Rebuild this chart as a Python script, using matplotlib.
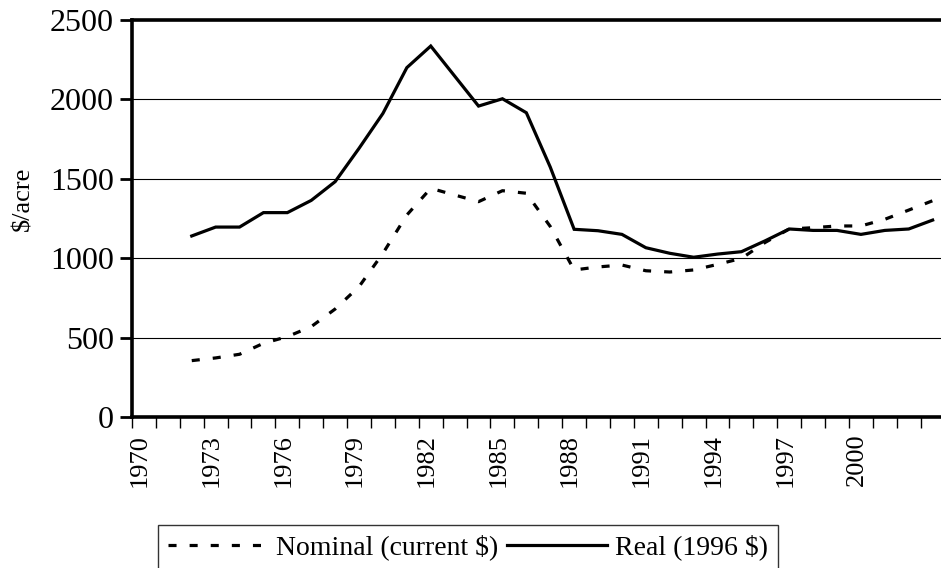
import matplotlib
matplotlib.use("Agg")
import matplotlib.pyplot as plt
import matplotlib.transforms as mtransforms
from matplotlib.ticker import FixedLocator, NullFormatter

plt.rcParams['font.family'] = ['Liberation Serif', 'DejaVu Serif']
plt.rcParams['lines.scale_dashes'] = False

years = list(range(1972, 2004))
nominal = [355, 372, 395, 464, 506, 569, 680, 821, 1031, 1272, 1440, 1398, 1356,
           1425, 1409, 1200, 926, 945, 957, 921, 913, 926, 961, 999, 1100, 1184,
           1192, 1203, 1203, 1245, 1303, 1362]
real = [1140, 1196, 1196, 1287, 1287, 1364, 1482, 1692, 1912, 2200, 2336, 2147,
        1958, 2004, 1916, 1574, 1182, 1173, 1150, 1066, 1031, 1006, 1026, 1041,
        1110, 1184, 1175, 1175, 1150, 1175, 1184, 1240]
first_year = 1970
label_years = list(range(1970, 2001, 3))
yticks = [0, 500, 1000, 1500, 2000, 2500]

W, H = 941, 568
fig = plt.figure(figsize=(W / 100, H / 100), dpi=100)
ax = fig.add_axes([132 / W, 1 - 417 / H, (W - 132) / W, (417 - 20) / H])

x = [y - first_year for y in years]
ax.plot(x, nominal, color='black', lw=2.3, linestyle=(0, (5.8, 9.4)),
        dash_capstyle='butt', solid_capstyle='butt', label='Nominal (current $)')
ax.plot(x, real, color='black', lw=2.3, solid_joinstyle='miter',
        label='Real (1996 $)')

ax.set_ylim(0, 2500)
ax.set_xlim(-0.5, 33.35)
ax.set_yticks(yticks)
ax.set_yticklabels([str(v) for v in yticks], fontsize=23)
ax.yaxis.grid(True, color='black', lw=0.8)
ax.set_axisbelow(True)
ax.tick_params(axis='y', direction='out', length=9, width=2, pad=4)

ax.xaxis.set_major_locator(FixedLocator([y - first_year for y in label_years]))
ax.set_xticklabels([str(y) for y in label_years], rotation=90, fontsize=19)
ax.tick_params(axis='x', which='major', length=0, pad=12)
offset = mtransforms.ScaledTranslation(-4 / 100, 0, fig.dpi_scale_trans)
for lbl in ax.get_xticklabels():
    lbl.set_transform(lbl.get_transform() + offset)
ax.xaxis.set_minor_locator(FixedLocator([i - 0.5 for i in range(0, 35)]))
ax.xaxis.set_minor_formatter(NullFormatter())
ax.tick_params(axis='x', which='minor', direction='out', length=8, width=1)

for s in ['top', 'left', 'bottom']:
    ax.spines[s].set_linewidth(2.6)
ax.spines['right'].set_visible(False)

fig.text(23 / W, 1 - 199 / H, '$/acre', rotation=90, fontsize=19,
         ha='center', va='center')

leg = fig.legend(loc='upper left', bbox_to_anchor=(158 / W, 1 - 525 / H),
                 ncol=2, fontsize=20, frameon=True, fancybox=False,
                 edgecolor='black', handlelength=3.6, handletextpad=0.3,
                 columnspacing=0.3, borderpad=0.35, borderaxespad=0)
leg.get_frame().set_linewidth(1.0)

fig.savefig('out.png', dpi=100)
